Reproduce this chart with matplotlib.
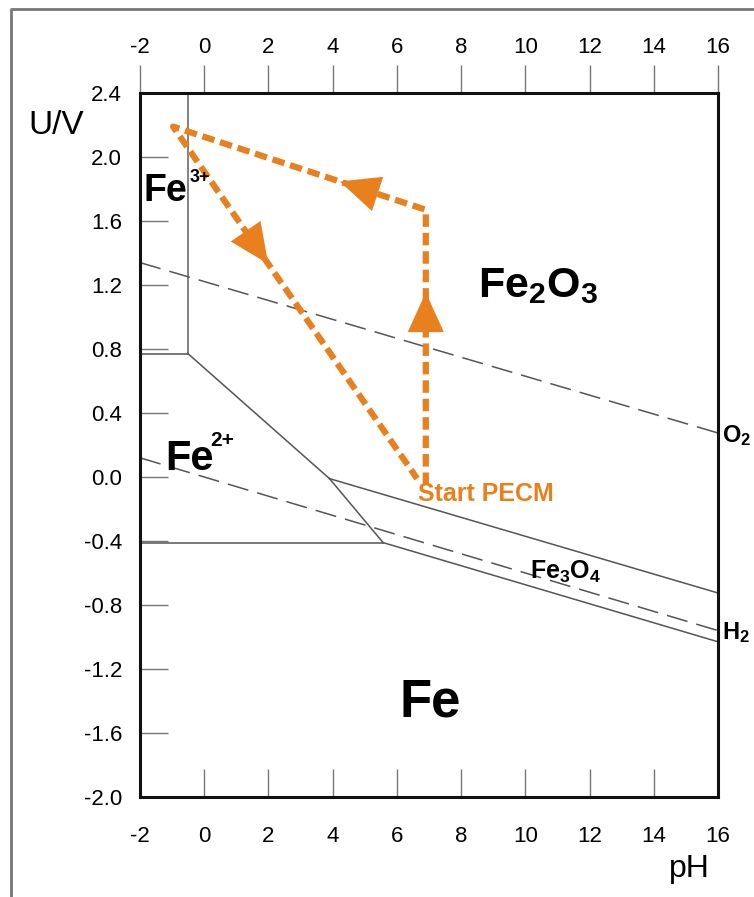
import matplotlib
matplotlib.use("Agg")
import matplotlib.pyplot as plt
from matplotlib.lines import Line2D
import numpy as np

plt.rcParams["font.family"] = ["Liberation Sans", "DejaVu Sans"]
plt.rcParams["mathtext.fontset"] = "custom"
plt.rcParams["mathtext.rm"] = "Liberation Sans"
plt.rcParams["mathtext.bf"] = "Liberation Sans:bold"
plt.rcParams["mathtext.it"] = "Liberation Sans:italic"

# Pourbaix diagram of iron: boundary lines (pH, U in V)
fe3_fe2o3_ph = [-0.5, -0.5]
fe3_fe2o3_u = [2.4, 0.77]
fe3_fe2_ph = [-2.0, -0.5]
fe3_fe2_u = [0.77, 0.77]
fe2_fe2o3_ph = [-0.5, 3.9]
fe2_fe2o3_u = [0.77, -0.01]
fe2_fe3o4_ph = [3.9, 5.57]
fe2_fe3o4_u = [-0.01, -0.41]
fe2_fe_ph = [-2.0, 5.57]
fe2_fe_u = [-0.41, -0.41]
fe2o3_fe3o4_ph = [3.9, 16.0]
fe2o3_fe3o4_u = [-0.01, -0.725]
fe3o4_fe_ph = [5.57, 16.0]
fe3o4_fe_u = [-0.41, -1.03]

# water stability lines
o2_ph = [-2.0, 16.0]
o2_u = [1.34, 0.275]
h2_ph = [-2.0, 16.0]
h2_u = [0.12, -0.96]

# PECM path
pecm_ph = [6.9, 6.9, -0.97, 6.63]
pecm_u = [-0.05, 1.67, 2.19, -0.01]
arrow_frac = [0.70, 0.34, 0.39]  # where the arrow sits on each segment

xticks = np.arange(-2, 17, 2)
yticks = np.round(np.arange(-2.0, 2.41, 0.4), 1)

orange = "#E8801E"
gray = "#555555"

fig = plt.figure(figsize=(7.54, 8.97), dpi=100)
ax = fig.add_axes([140 / 754, 1 - 797 / 897, 578 / 754, 704 / 897])
ax.set_xlim(-2, 16)
ax.set_ylim(-2.0, 2.4)

for sp in ax.spines.values():
    sp.set_linewidth(2.2)
    sp.set_color("#111111")

# boundaries
ax.plot(fe3_fe2o3_ph, fe3_fe2o3_u, color="#777777", lw=1.3)
for px, uy in [(fe3_fe2_ph, fe3_fe2_u), (fe2_fe2o3_ph, fe2_fe2o3_u),
               (fe2_fe3o4_ph, fe2_fe3o4_u), (fe2_fe_ph, fe2_fe_u),
               (fe2o3_fe3o4_ph, fe2o3_fe3o4_u), (fe3o4_fe_ph, fe3o4_fe_u)]:
    ax.plot(px, uy, color=gray, lw=1.1)

ax.plot(o2_ph, o2_u, color=gray, lw=1.1, dashes=(14, 6))
ax.plot(h2_ph, h2_u, color=gray, lw=1.1, dashes=(14, 6))

# PECM path with arrows
ax.plot(pecm_ph, pecm_u, color=orange, lw=4.5, dashes=(2.0, 0.95),
        solid_joinstyle="miter", dash_capstyle="butt")
for i, f in enumerate(arrow_frac):
    x0, y0 = pecm_ph[i], pecm_u[i]
    x1, y1 = pecm_ph[i + 1], pecm_u[i + 1]
    tx, ty = x0 + f * (x1 - x0), y0 + f * (y1 - y0)
    bx, by = x0 + (f - 0.06) * (x1 - x0), y0 + (f - 0.06) * (y1 - y0)
    ax.annotate("", xy=(tx, ty), xytext=(bx, by),
                arrowprops=dict(arrowstyle="-|>,head_length=1.1,head_width=0.5",
                                color=orange, lw=0, mutation_scale=26,
                                shrinkA=0, shrinkB=0))

# ticks
ylabels = [f"{abs(v):.1f}" if abs(v) < 1e-9 else f"{v:.1f}" for v in yticks]
ax.set_xticks(xticks)
ax.set_yticks(yticks)
ax.set_xticklabels([str(v) for v in xticks])
ax.set_yticklabels(ylabels)
ax.tick_params(axis="x", direction="in", length=20, width=1, color="#777777",
               labelsize=16, pad=21, top=False)
ax.tick_params(axis="y", direction="in", length=20, width=1, color="#777777",
               labelsize=16, pad=13, right=False)
sec = ax.secondary_xaxis("top")
sec.set_xticks(xticks)
sec.set_xticklabels([str(v) for v in xticks])
sec.tick_params(direction="out", length=20, width=1, color="#777777",
                labelsize=16, pad=5)
sec.spines["top"].set_visible(False)

# labels
ax.text(-1.9, 1.79, "Fe", fontsize=27, fontweight="bold", va="center", ha="left")
ax.text(-0.45, 1.87, "3+", fontsize=13, fontweight="bold", va="center", ha="left")
ax.text(-1.22, 0.11, "Fe", fontsize=30, fontweight="bold", va="center", ha="left")
ax.text(0.2, 0.23, "2+", fontsize=15, fontweight="bold", va="center", ha="left")
ax.text(10.4, 1.19, r"$\mathbf{Fe_2O_3}$", fontsize=31, va="center", ha="center")
ax.text(10.15, -0.59, r"$\mathbf{Fe_3O_4}$", fontsize=18, va="center", ha="left")
ax.text(7.03, -1.41, "Fe", fontsize=38, fontweight="bold", va="center", ha="center")
ax.text(16.12, 0.26, r"$\mathbf{O_2}$", fontsize=17, va="center", ha="left",
        clip_on=False)
ax.text(16.12, -0.975, r"$\mathbf{H_2}$", fontsize=17, va="center", ha="left",
        clip_on=False)
ax.text(6.66, -0.105, "Start PECM", fontsize=18, fontweight="bold",
        color=orange, va="center", ha="left")

fig.text(56 / 754, 1 - 125 / 897, "U/V", fontsize=24, ha="center", va="center")
fig.text(689 / 754, 1 - 869 / 897, "pH", fontsize=23, ha="center", va="center")

# frame around figure (top and left edges visible)
fig.add_artist(Line2D([11 / 754, 11 / 754, 1.0], [0.0, 1 - 9 / 897, 1 - 9 / 897],
                      transform=fig.transFigure, color="#777777", lw=2))

fig.savefig("out.png", dpi=100)
